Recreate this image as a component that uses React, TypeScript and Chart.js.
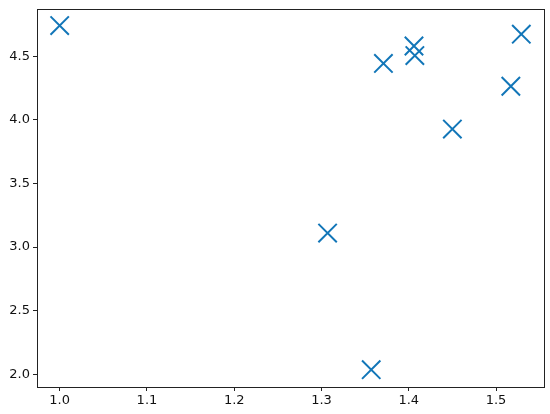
import React, { useEffect, useRef } from "react";
import { Chart, registerables } from "chart.js";

Chart.register(...registerables);

const xValues = [1.0, 1.307, 1.357, 1.371, 1.406, 1.407, 1.45, 1.517, 1.529];
const yValues = [4.741, 3.11, 2.036, 4.443, 4.58, 4.505, 3.927, 4.264, 4.673];
const xRange = [0.974, 1.555];
const yRange = [1.9, 4.871];

const frame = {
  id: "frame",
  afterDraw(chart: any) {
    const { ctx, chartArea } = chart;
    ctx.save();
    ctx.strokeStyle = "#222";
    ctx.lineWidth = 1;
    ctx.strokeRect(
      Math.round(chartArea.left) + 0.5,
      Math.round(chartArea.top) + 0.5,
      Math.round(chartArea.right - chartArea.left),
      Math.round(chartArea.bottom - chartArea.top)
    );
    ctx.restore();
  },
};

export default function App() {
  const ref = useRef<HTMLCanvasElement>(null);
  useEffect(() => {
    document.body.style.margin = "0";
    const font = { family: "DejaVu Sans", size: 13 };
    const chart = new Chart(ref.current!, {
      type: "scatter",
      data: {
        datasets: [
          {
            data: xValues.map((x, i) => ({ x, y: yValues[i] })),
            pointStyle: "crossRot",
            pointRadius: 13,
            pointHoverRadius: 13,
            borderColor: "#1276b8",
            backgroundColor: "#1276b8",
            borderWidth: 2,
            pointBorderWidth: 2,
          },
        ],
      },
      options: {
        responsive: false,
        animation: false,
        layout: { autoPadding: false, padding: { top: 9, right: 6, left: 0, bottom: 0 } },
        plugins: { legend: { display: false }, tooltip: { enabled: false } },
        scales: {
          x: {
            type: "linear",
            min: xRange[0],
            max: xRange[1],
            afterFit: (s: any) => {
              s.height = 27;
              s.paddingLeft = 0;
              s.paddingRight = 0;
            },
            border: { color: "#222", width: 1 },
            grid: { drawOnChartArea: false, tickLength: 4, color: "#222", tickColor: "#222" },
            ticks: {
              stepSize: 0.1,
              includeBounds: false,
              color: "#111",
              font,
              padding: 2,
              callback: (v: any) => Number(v).toFixed(1),
            },
          },
          y: {
            type: "linear",
            min: yRange[0],
            max: yRange[1],
            afterFit: (s: any) => {
              s.width = 37;
              s.paddingTop = 0;
              s.paddingBottom = 0;
            },
            border: { color: "#222", width: 1 },
            grid: { drawOnChartArea: false, tickLength: 4, color: "#222", tickColor: "#222" },
            ticks: {
              stepSize: 0.5,
              includeBounds: false,
              color: "#111",
              font,
              padding: 3,
              callback: (v: any) => Number(v).toFixed(1),
            },
          },
        },
      },
      plugins: [frame],
    });
    return () => chart.destroy();
  }, []);
  return (
    <div style={{ position: "absolute", left: 0, top: 0, width: 550, height: 414, background: "#fff" }}>
      <canvas ref={ref} width={550} height={414} />
    </div>
  );
}
